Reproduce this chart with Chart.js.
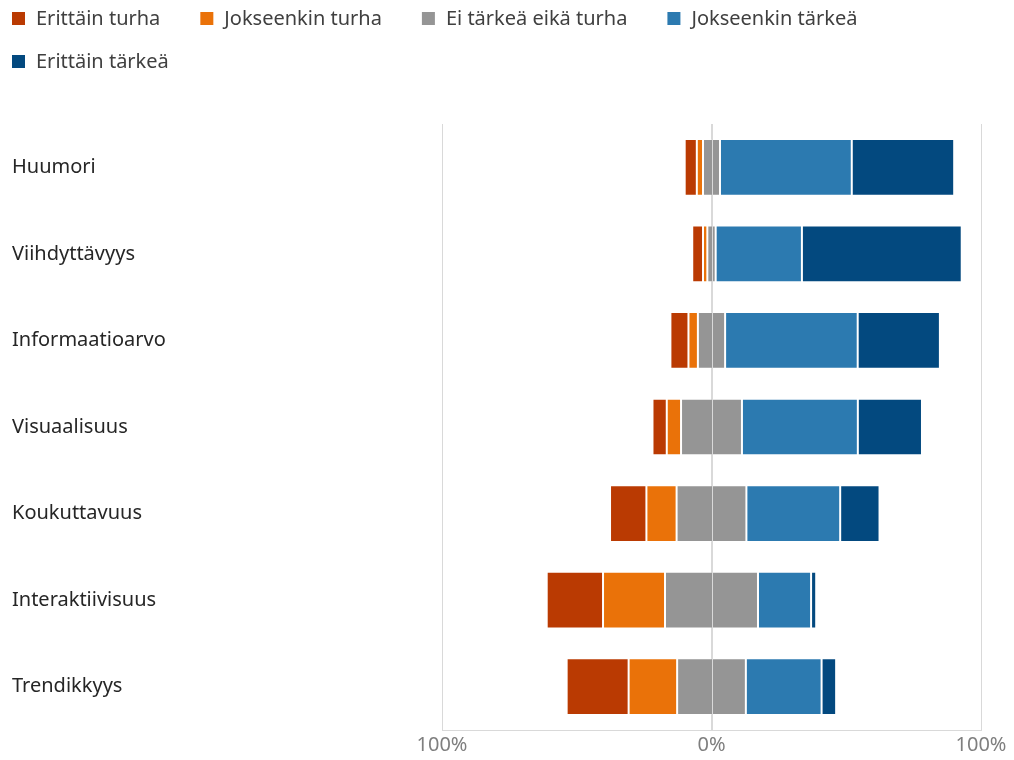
<!DOCTYPE html>
<html>
<head>
<meta charset="utf-8">
<script src="https://cdn.jsdelivr.net/npm/chart.js@4/dist/chart.umd.min.js"></script>
<style>
  html, body { margin: 0; padding: 0; background: #fff; }
  #wrap { width: 1014px; height: 760px; }
</style>
</head>
<body>
<div id="wrap"><canvas id="kysely"></canvas></div>
<script>
// kategoriat ja vastausten osuudet (%)
const categories = ["Huumori", "Viihdyttävyys", "Informaatioarvo", "Visuaalisuus", "Koukuttavuus", "Interaktiivisuus", "Trendikkyys"];
const seriesNames = ["Erittäin turha", "Jokseenkin turha", "Ei tärkeä eikä turha", "Jokseenkin tärkeä", "Erittäin tärkeä"];
const erittainTurha = [4.5, 4.0, 6.7, 5.3, 13.5, 20.9, 23.0];
const jokseenkinTurha = [2.3, 1.6, 3.5, 5.3, 11.2, 23.0, 18.0];
const eiTarkeaEikaTurha = [6.3, 3.1, 10.1, 22.6, 25.9, 34.5, 25.5];
const jokseenkinTarkea = [48.9, 32.0, 49.2, 43.0, 34.8, 19.7, 28.1];
const erittainTarkea = [38.0, 59.3, 30.5, 23.8, 14.6, 1.9, 5.4];
const xTicks = [-100, 0, 100];

const colors = ["#BA3A02", "#EA7209", "#959595", "#2C7AB0", "#03497F"];

Chart.defaults.font.family = '"Noto Sans", sans-serif';
Chart.defaults.font.size = 20;

// neutraali jaetaan puoliksi nollan molemmin puolin
function buildRanges() {
  const red = [], orange = [], grey = [], blue = [], dark = [];
  for (let i = 0; i < categories.length; ++i) {
    let half = eiTarkeaEikaTurha[i] / 2;
    let start = -(erittainTurha[i] + jokseenkinTurha[i] + half);
    red.push([start, start + erittainTurha[i]]);
    start += erittainTurha[i];
    orange.push([start, start + jokseenkinTurha[i]]);
    grey.push([-half, half]);
    blue.push([half, half + jokseenkinTarkea[i]]);
    dark.push([half + jokseenkinTarkea[i], half + jokseenkinTarkea[i] + erittainTarkea[i]]);
  }
  return [red, orange, grey, blue, dark];
}

const ranges = buildRanges();
const datasets = seriesNames.map((name, i) => ({
  label: name,
  data: ranges[i],
  backgroundColor: colors[i],
  borderColor: "rgba(255,255,255,0.22)",
  borderWidth: 1,
  borderSkipped: false,
  grouped: false,
  categoryPercentage: 1,
  barPercentage: 0.655,
}));

// legenda kahdelle riville kuten alkuperäisessä
const legendRows = {
  id: "legendRows",
  afterDraw(chart) {
    const ctx = chart.ctx;
    ctx.save();
    ctx.font = '20px "Noto Sans", sans-serif';
    ctx.textBaseline = "middle";
    let x = 12, y = 18;
    chart.data.datasets.forEach((ds) => {
      const w = 24 + ctx.measureText(ds.label).width;
      if (x + w > chart.width - 20) { x = 12; y += 43; }
      ctx.fillStyle = ds.backgroundColor;
      ctx.fillRect(x, y - 6, 13, 13);
      ctx.fillStyle = "#404040";
      ctx.fillText(ds.label, x + 24, y + 1);
      x += w + 40;
    });
    ctx.restore();
  },
};

// nollaviiva palkkien päälle
const zeroLine = {
  id: "zeroLine",
  afterDatasetsDraw(chart) {
    const ctx = chart.ctx;
    const x0 = chart.scales.x.getPixelForValue(0);
    ctx.save();
    ctx.strokeStyle = "#d9d9d9";
    ctx.lineWidth = 1;
    ctx.beginPath();
    ctx.moveTo(Math.round(x0) + 0.5, chart.chartArea.top);
    ctx.lineTo(Math.round(x0) + 0.5, chart.chartArea.bottom);
    ctx.stroke();
    ctx.restore();
  },
};

const ctx = document.getElementById("kysely").getContext("2d");
window.myBar = new Chart(ctx, {
  type: "bar",
  data: { labels: categories, datasets: datasets },
  plugins: [legendRows, zeroLine],
  options: {
    indexAxis: "y",
    responsive: true,
    maintainAspectRatio: false,
    animation: false,
    layout: { padding: { top: 124, left: 12, right: 33, bottom: 0 } },
    plugins: { legend: { display: false }, tooltip: { enabled: false } },
    scales: {
      x: {
        min: -100,
        max: 100,
        afterBuildTicks: (scale) => { scale.ticks = xTicks.map((v) => ({ value: v })); },
        ticks: { color: "#7f7f7f", padding: 3, callback: (v) => Math.abs(v) + "%" },
        grid: { color: "#d9d9d9", drawTicks: false },
        border: { display: true, color: "#d9d9d9" },
      },
      y: {
        afterFit: (scale) => { scale.width = 430; },
        ticks: { color: "#262626", crossAlign: "far" },
        grid: { display: false },
        border: { display: false },
      },
    },
  },
});
</script>
</body>
</html>
